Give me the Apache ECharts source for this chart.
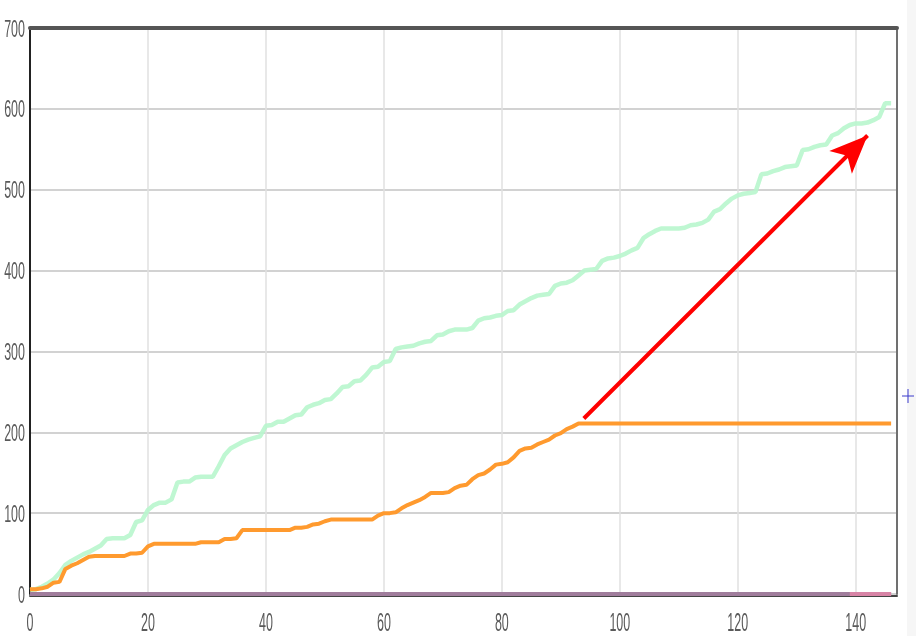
<!DOCTYPE html>
<html><head><meta charset="utf-8">
<script src="https://cdn.jsdelivr.net/npm/echarts@6/dist/echarts.min.js"></script>
<style>html,body{margin:0;padding:0;background:#fff}#c{width:916px;height:636px}</style>
</head><body><div id="c"></div>
<script>
const xValues = Array.from({length:147},(_,i)=>i);
const greenValues = [5,6,9,13,18,26,36,41,45,49,52,56,60,68,69,69,69,73,89,91,
104,110,113,113,117,138,139,139,144,145,145,145,158,172,180,184,188,191,193,195,
208,209,213,213,217,221,222,231,234,236,240,241,248,256,257,263,264,271,280,281,
287,288,303,305,306,307,310,312,313,320,321,325,327,327,327,329,338,341,342,344,
345,350,351,358,362,366,369,370,371,381,384,385,388,394,400,401,402,412,415,416,
418,421,425,428,440,445,449,452,452,452,452,453,456,457,459,463,473,476,483,489,
493,495,496,497,519,520,523,525,528,529,530,549,550,553,555,556,567,570,576,580,
582,582,583,586,590,607,607];
const orangeValues = [6,6,7,9,14,15,31,35,38,42,46,47,47,47,47,47,47,50,50,51,
59,62,62,62,62,62,62,62,62,64,64,64,64,68,68,69,79,79,79,79,
79,79,79,79,79,82,82,83,86,87,90,92,92,92,92,92,92,92,92,97,
100,100,101,106,110,113,116,120,125,125,125,126,131,134,135,142,147,149,154,160,
161,163,169,177,180,181,185,188,191,196,199,204,207,211,211,211,211,211,211,211,
211,211,211,211,211,211,211,211,211,211,211,211,211,211,211,211,211,211,211,211,
211,211,211,211,211,211,211,211,211,211,211,211,211,211,211,211,211,211,211,211,
211,211,211,211,211,211,211];
const purpleValues = xValues.map(()=>0);
const pinkValues = [];
for (let i=0;i<147;i++) pinkValues.push(i>=139?0:null);
const arrowStart = [93.9, 217];
const arrowEnd = [142, 567];
const yTicks = [0,100,200,300,400,500,600,700];
const xTicks = [0,20,40,60,80,100,120,140];

const pair = (vals) => xValues.map((x,i)=>[x, vals[i]]);
const chart = echarts.init(document.getElementById('c'));
chart.setOption({
  animation:false,
  grid:{left:30,top:28,right:19,bottom:42,containLabel:false,outerBoundsMode:'none'},
  xAxis:[{
    type:'value',min:0,max:147,interval:20,offset:2,
    axisLine:{show:true,onZero:false,lineStyle:{color:'#444',width:2}},
    axisTick:{show:false},
    axisLabel:{show:false},
    splitLine:{show:true,lineStyle:{color:'#e0e0e0',width:1.5}}
  },{
    type:'value',position:'top',min:0,max:147,show:true,
    axisLine:{show:true,onZero:false,lineStyle:{color:'#555',width:4}},
    axisTick:{show:false},axisLabel:{show:false},splitLine:{show:false}
  }],
  yAxis:[{
    type:'value',min:0,max:700,interval:100,
    axisLine:{show:true,onZero:false,lineStyle:{color:'#222',width:2}},
    axisTick:{show:false},
    axisLabel:{show:false},
    splitLine:{show:true,lineStyle:{color:'#d2d2d2',width:2}}
  },{
    type:'value',position:'right',min:0,max:700,show:true,
    axisLine:{show:true,onZero:false,lineStyle:{color:'#707070',width:2}},
    axisTick:{show:false},axisLabel:{show:false},splitLine:{show:false}
  }],
  series:[
    {type:'line',data:pair(greenValues),symbol:'none',
     lineStyle:{color:'#b8f6cd',width:4.5,opacity:0.9},z:2},
    {type:'line',data:pair(orangeValues),symbol:'none',
     lineStyle:{color:'#ff9a2e',width:4},z:3,
     markLine:{silent:true,symbol:['none','arrow'],symbolSize:[24,38],
       label:{show:false},
       lineStyle:{color:'#ff0000',width:4,type:'solid'},
       data:[[{coord:arrowStart},{coord:arrowEnd}]]}},
    {type:'line',data:pair(purpleValues),symbol:'none',
     lineStyle:{color:'#a07d9c',width:4},z:4},
    {type:'line',data:pair(pinkValues),symbol:'none',
     lineStyle:{color:'#d884a6',width:4},z:5}
  ]
});

// condensed tick labels placed through the axes' own scales
const labels = [];
yTicks.forEach(v=>{
  const p = chart.convertToPixel({xAxisIndex:0,yAxisIndex:0},[0,v]);
  labels.push({type:'text',x:p[0]-5,y:p[1]+2,scaleX:0.52,silent:true,
    style:{text:String(v),fontSize:24,fontFamily:"'Liberation Sans',Arial,sans-serif",
      fill:'#5a5a5a',align:'right',verticalAlign:'middle'}});
});
xTicks.forEach(v=>{
  const p = chart.convertToPixel({xAxisIndex:0,yAxisIndex:0},[v,0]);
  labels.push({type:'text',x:p[0],y:p[1]+30,scaleX:0.48,silent:true,
    style:{text:String(v),fontSize:26,fontFamily:"'Liberation Sans',Arial,sans-serif",
      fill:'#5a5a5a',align:'center',verticalAlign:'middle'}});
});
labels.push({type:'rect',shape:{x:907,y:0,width:9,height:636},style:{fill:'#f6f6f6'},z:-1,silent:true});
labels.push({type:'line',shape:{x1:902,y1:396,x2:914,y2:396},style:{stroke:'#3a3acc',lineWidth:1},silent:true});
labels.push({type:'line',shape:{x1:908,y1:389,x2:908,y2:403},style:{stroke:'#3a3acc',lineWidth:1},silent:true});
chart.setOption({graphic:labels});
</script></body></html>
